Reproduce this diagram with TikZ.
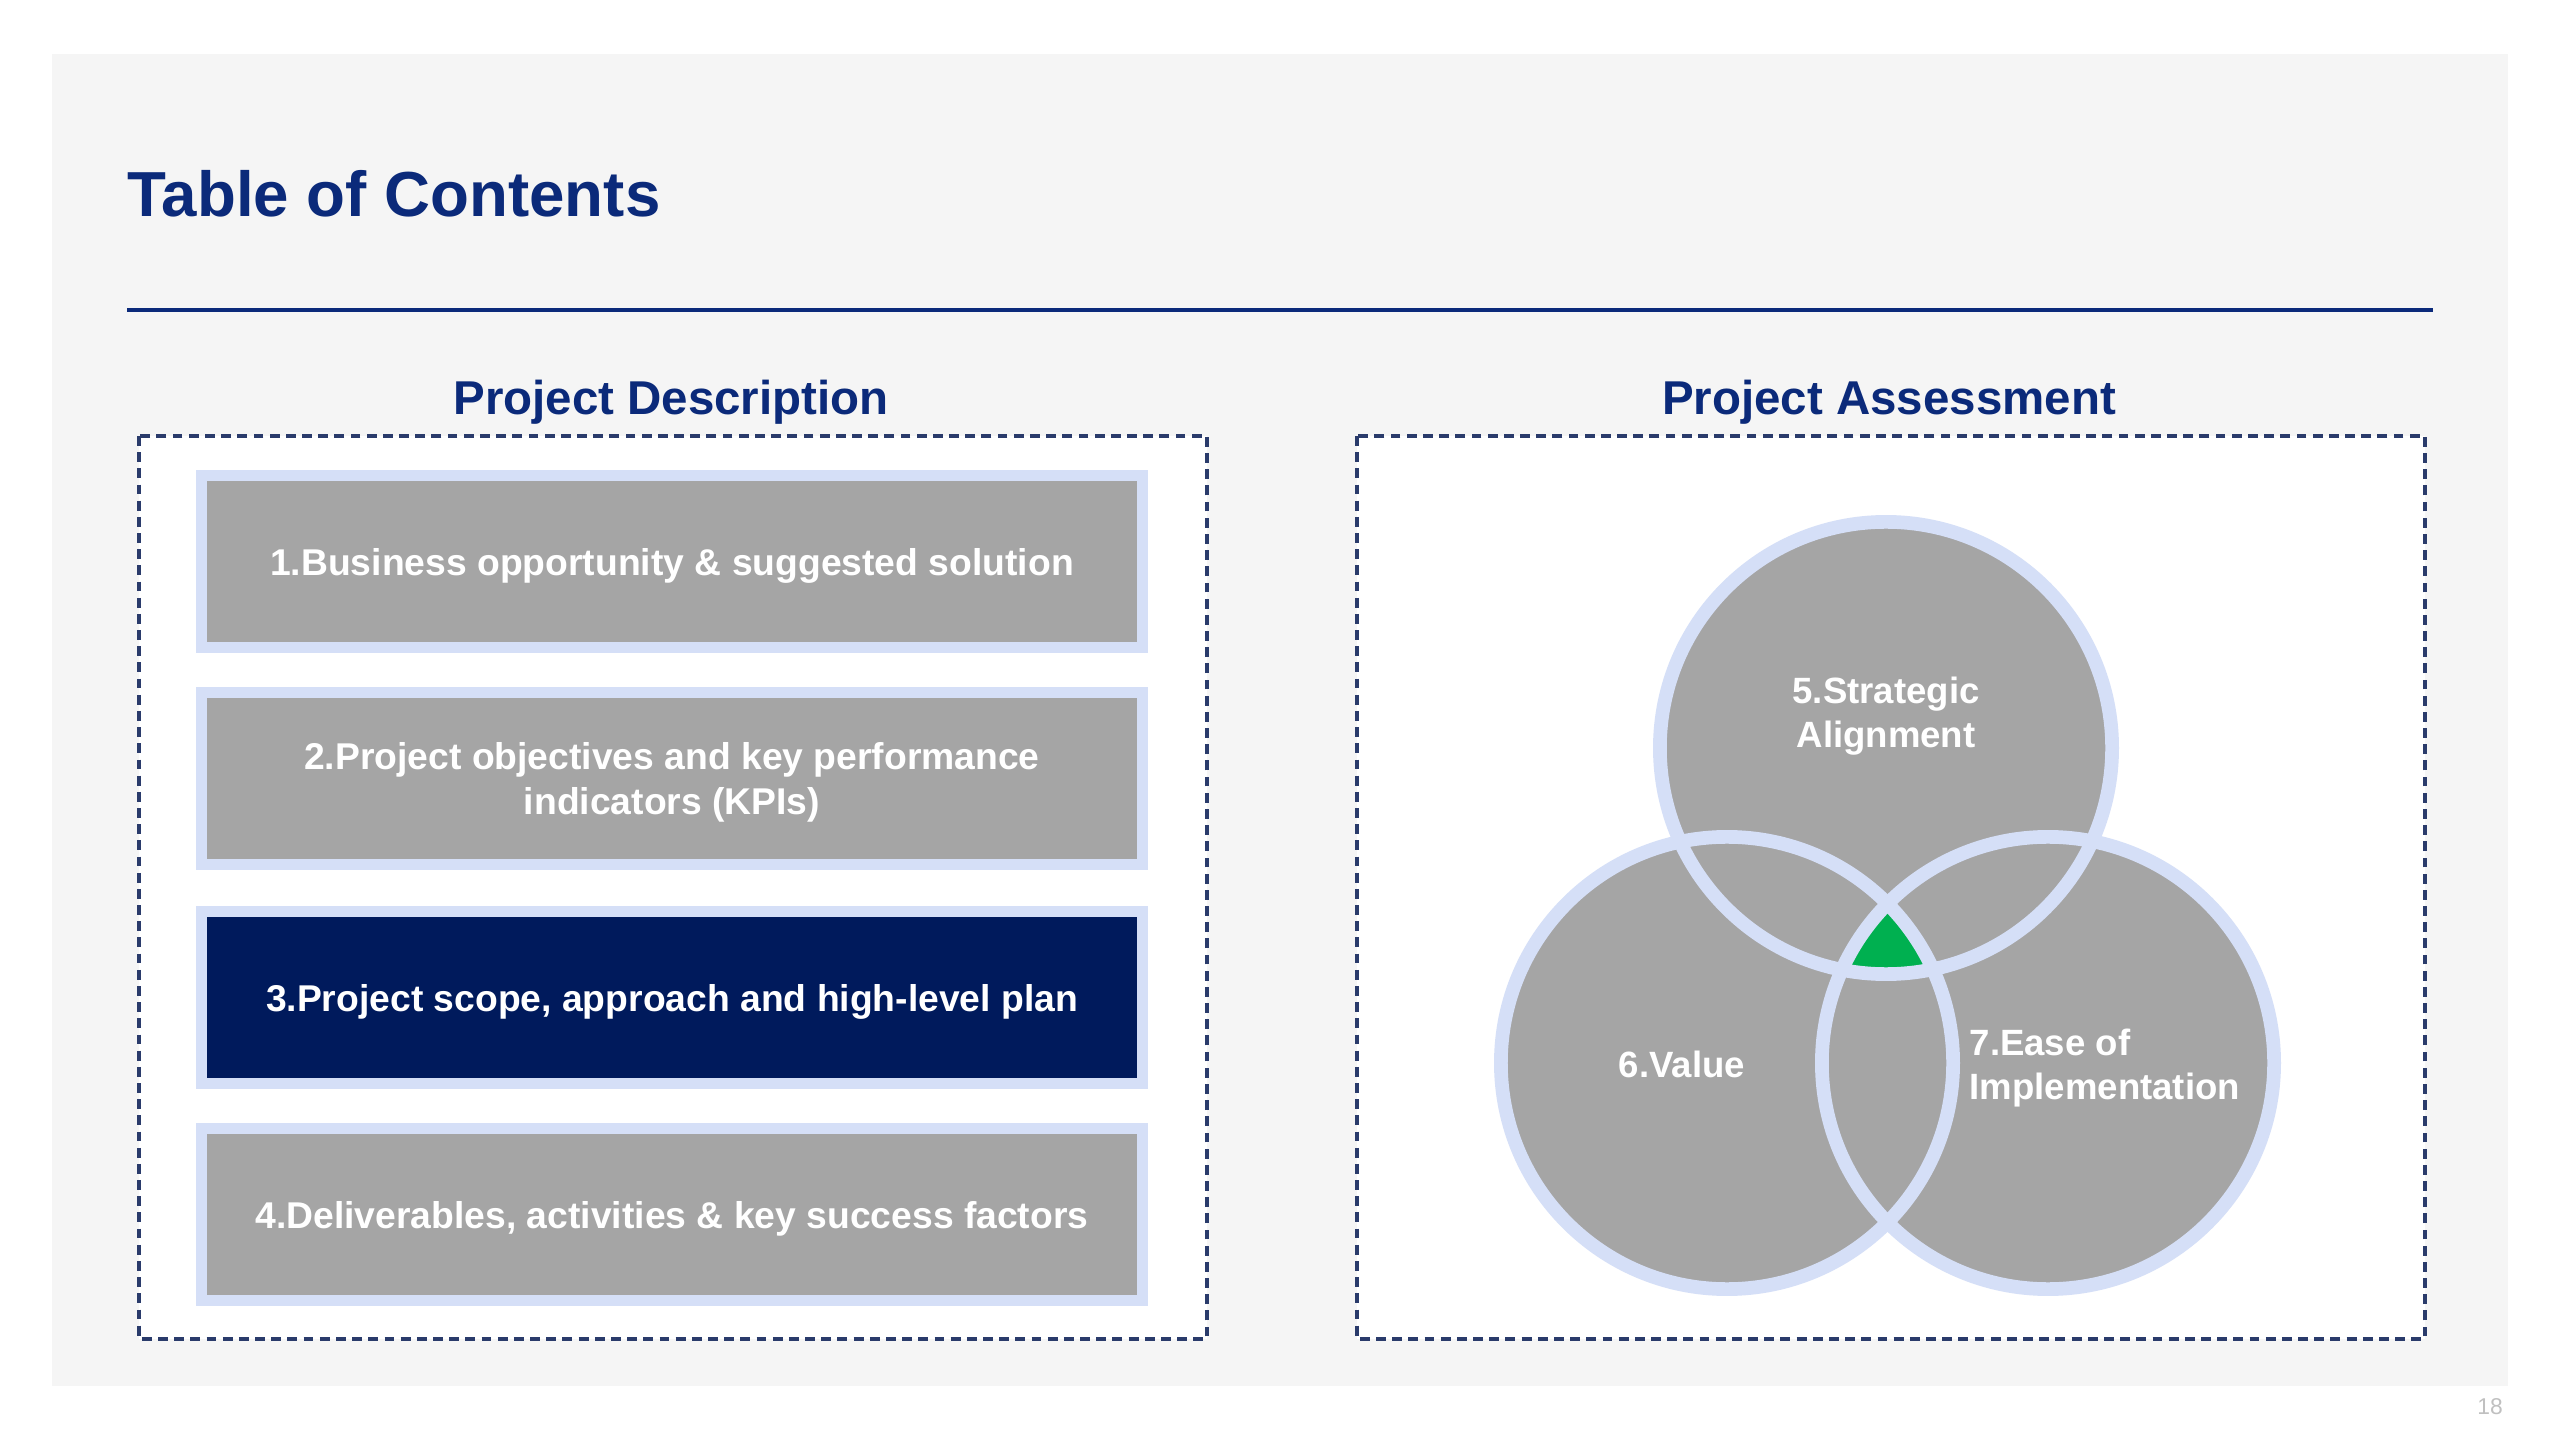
\documentclass[tikz,border=0pt]{standalone}
\usepackage{fontspec}
\setmainfont{Liberation Sans}
\definecolor{navy}{HTML}{0B2A7A}
\definecolor{darknavy}{HTML}{001A5C}
\definecolor{dashnavy}{HTML}{2A3B6B}
\definecolor{ringblue}{HTML}{D5DFF7}
\definecolor{boxgray}{HTML}{A5A5A5}
\definecolor{panelgray}{HTML}{F5F5F5}
\definecolor{vgreen}{HTML}{00B050}
\definecolor{pagegray}{HTML}{C0C0C0}
\begin{document}
\begin{tikzpicture}[x=0.01cm,y=-0.01cm,
  itembox/.style={draw=ringblue, line width=3.27pt, fill=boxgray, minimum width=9.405cm,
    minimum height=1.715cm, text=white, font=\bfseries\fontsize{10.6}{12.6}\selectfont,
    align=center, inner sep=0pt, text depth=0pt},
  heading/.style={anchor=base, inner sep=0pt, text=navy, font=\bfseries\fontsize{13.5}{16}\selectfont},
  dashbox/.style={draw=dashnavy, line width=0.9pt, dash pattern=on 2.8pt off 1.8pt, fill=white},
  vcircle/.style={circle, fill=boxgray, minimum size=4.52cm, inner sep=0pt},
  ring/.style={draw=ringblue, line width=3.9pt},
  clabel/.style={text=white, font=\bfseries\fontsize{10.4}{12.6}\selectfont, inner sep=0pt}
]
% canvas
\fill[white] (0,0) rectangle (2560,1440);
\useasboundingbox (0,0) rectangle (2560,1440);
\fill[panelgray] (52,54) rectangle (2508,1386);

% title and rule
\node[anchor=base west, inner sep=0pt, text=navy, font=\bfseries\fontsize{18.1}{21}\selectfont] (title) at (127,217) {Table of Contents};
\coordinate (ruleL) at (127,310);
\coordinate (ruleR) at (2433,310);
\draw[navy, line width=1.4pt] (ruleL) -- (ruleR);

% headings
\node[heading] (hdesc) at (671,415) {Project Description};
\node[heading] (hassess) at (1889,415) {Project Assessment};

% dashed frames
\draw[dashbox] (139,436) rectangle (1207,1339);
\draw[dashbox] (1357,436) rectangle (2425,1339);

% items
\node[itembox] (i1) at (672,561.5) {1.Business opportunity \& suggested solution};
\node[itembox] (i2) at (672,778.5) {2.Project objectives and key performance\\indicators (KPIs)};
\node[itembox, fill=darknavy] (i3) at (672,997.5) {3.Project scope, approach and high-level plan};
\node[itembox] (i4) at (672,1214.5) {4.Deliverables, activities \& key success factors};

% venn
\node[vcircle] (c5) at (1886,748) {};
\node[vcircle] (c6) at (1727,1063) {};
\node[vcircle] (c7) at (2048,1063) {};
\begin{scope}
  \clip (c5.center) circle (2.26cm);
  \clip (c6.center) circle (2.26cm);
  \fill[vgreen] (c7.center) circle (2.26cm);
\end{scope}
\draw[ring] (c5.center) circle (2.26cm);
\draw[ring] (c6.center) circle (2.26cm);
\draw[ring] (c7.center) circle (2.26cm);

\node[clabel, align=center] (l5) at (1886,716) {5.Strategic\\Alignment};
\node[clabel] (l6) at (1682,1064) {6.Value};
\node[clabel, anchor=west, align=left] (l7) at (1969,1068) {7.Ease of\\Implementation};

% page number
\node[text=pagegray, inner sep=0pt, font=\fontsize{6.5}{8}\selectfont] (pg) at (2490,1407) {18};
\end{tikzpicture}
\end{document}
